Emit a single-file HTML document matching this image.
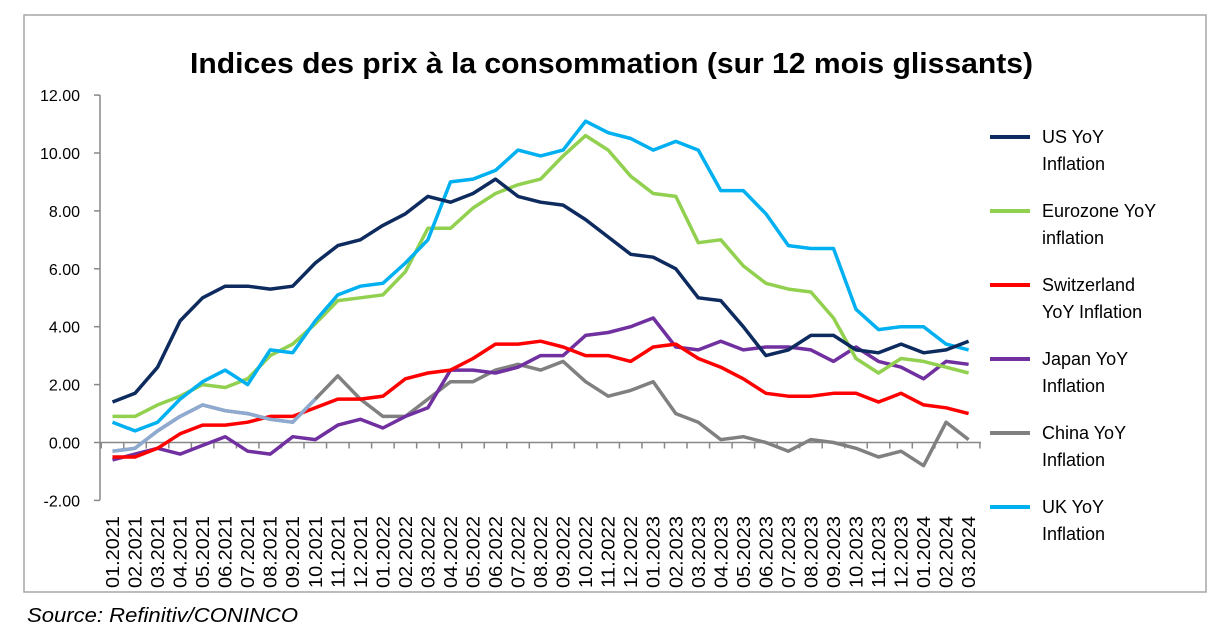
<!DOCTYPE html><html><head><style>body{margin:0;background:#fff}svg{display:block;font-family:"Liberation Sans",sans-serif}</style></head><body>
<svg width="1231" height="637" xmlns="http://www.w3.org/2000/svg">
<rect x="24" y="15" width="1182" height="577" fill="#fff" stroke="#a6a6a6" stroke-width="1.5"/>
<text x="190" y="73" font-size="29" font-weight="bold" textLength="843" lengthAdjust="spacingAndGlyphs">Indices des prix à la consommation  (sur 12 mois glissants)</text>
<g id="ax" stroke="#888" stroke-width="1.5"></g>
<g id="yl" font-size="16" text-anchor="end"></g>
<g id="xl" font-size="18"></g>
<g id="series" fill="none" stroke-width="3.5" stroke-linejoin="round"></g>
<g font-size="18">
<line x1="990" y1="137" x2="1030" y2="137" stroke="#0d2b5e" stroke-width="4"/><text x="1042" y="143">US YoY</text><text x="1042" y="170">Inflation</text>
<line x1="990" y1="211" x2="1030" y2="211" stroke="#92d050" stroke-width="4"/><text x="1042" y="217">Eurozone YoY</text><text x="1042" y="244">inflation</text>
<line x1="990" y1="285" x2="1030" y2="285" stroke="#ff0000" stroke-width="4"/><text x="1042" y="291">Switzerland</text><text x="1042" y="318">YoY Inflation</text>
<line x1="990" y1="359" x2="1030" y2="359" stroke="#7030a0" stroke-width="4"/><text x="1042" y="365">Japan YoY</text><text x="1042" y="392">Inflation</text>
<line x1="990" y1="433" x2="1030" y2="433" stroke="#808080" stroke-width="4"/><text x="1042" y="439">China YoY</text><text x="1042" y="466">Inflation</text>
<line x1="990" y1="507" x2="1030" y2="507" stroke="#00b0f0" stroke-width="4"/><text x="1042" y="513">UK YoY</text><text x="1042" y="540">Inflation</text>
</g>
<text x="27" y="622" font-size="20" font-style="italic" textLength="271" lengthAdjust="spacingAndGlyphs">Source: Refinitiv/CONINCO</text>
</svg>
<script>
const NS="http://www.w3.org/2000/svg";
const X0=112.5,DX=22.53,Y=v=>442.5-v*28.95;
function el(p,t,a,txt){const e=document.createElementNS(NS,t);for(const k in a)e.setAttribute(k,a[k]);if(txt)e.textContent=txt;document.getElementById(p).appendChild(e);}
el("ax","line",{x1:100,y1:95,x2:100,y2:500});
for(let v=-2;v<=12;v+=2){el("ax","line",{x1:94,y1:Y(v),x2:100,y2:Y(v)});el("yl","text",{x:80,y:Y(v)+6},v.toFixed(2));}
el("ax","line",{x1:100,y1:Y(0),x2:981,y2:Y(0)});
const labs=[];for(let i=0;i<39;i++){const m=(i%12)+1,yr=2021+Math.floor(i/12);labs.push(String(m).padStart(2,"0")+"."+yr);}
for(let i=0;i<=39;i++){const x=X0-DX/2+i*DX;el("ax","line",{x1:x,y1:Y(0),x2:x,y2:Y(0)+6});}
labs.forEach((l,i)=>{const x=X0+i*DX+6.5;el("xl","text",{x:x,y:516,transform:`rotate(-90 ${x} 516)`,"text-anchor":"end",textLength:"72",lengthAdjust:"spacingAndGlyphs"},l);});
const D={
"#808080":[-0.3,-0.2,0.4,0.9,1.3,1.1,1.0,0.8,0.7,1.5,2.3,1.5,0.9,0.9,1.5,2.1,2.1,2.5,2.7,2.5,2.8,2.1,1.6,1.8,2.1,1.0,0.7,0.1,0.2,0.0,-0.3,0.1,0.0,-0.2,-0.5,-0.3,-0.8,0.7,0.1],
"#7030a0":[-0.6,-0.4,-0.2,-0.4,-0.1,0.2,-0.3,-0.4,0.2,0.1,0.6,0.8,0.5,0.9,1.2,2.5,2.5,2.4,2.6,3.0,3.0,3.7,3.8,4.0,4.3,3.3,3.2,3.5,3.2,3.3,3.3,3.2,2.8,3.3,2.8,2.6,2.2,2.8,2.7],
"#ff0000":[-0.5,-0.5,-0.2,0.3,0.6,0.6,0.7,0.9,0.9,1.2,1.5,1.5,1.6,2.2,2.4,2.5,2.9,3.4,3.4,3.5,3.3,3.0,3.0,2.8,3.3,3.4,2.9,2.6,2.2,1.7,1.6,1.6,1.7,1.7,1.4,1.7,1.3,1.2,1.0],
"#92d050":[0.9,0.9,1.3,1.6,2.0,1.9,2.2,3.0,3.4,4.1,4.9,5.0,5.1,5.9,7.4,7.4,8.1,8.6,8.9,9.1,9.9,10.6,10.1,9.2,8.6,8.5,6.9,7.0,6.1,5.5,5.3,5.2,4.3,2.9,2.4,2.9,2.8,2.6,2.4],
"#00b0f0":[0.7,0.4,0.7,1.5,2.1,2.5,2.0,3.2,3.1,4.2,5.1,5.4,5.5,6.2,7.0,9.0,9.1,9.4,10.1,9.9,10.1,11.1,10.7,10.5,10.1,10.4,10.1,8.7,8.7,7.9,6.8,6.7,6.7,4.6,3.9,4.0,4.0,3.4,3.2],
"#0d2b5e":[1.4,1.7,2.6,4.2,5.0,5.4,5.4,5.3,5.4,6.2,6.8,7.0,7.5,7.9,8.5,8.3,8.6,9.1,8.5,8.3,8.2,7.7,7.1,6.5,6.4,6.0,5.0,4.9,4.0,3.0,3.2,3.7,3.7,3.2,3.1,3.4,3.1,3.2,3.5]};
for(const c in D){el("series","polyline",{stroke:c,points:D[c].map((v,i)=>(X0+i*DX).toFixed(1)+","+Y(v).toFixed(1)).join(" ")});}
el("series","polyline",{stroke:"#8eaad0",points:D["#808080"].slice(0,10).map((v,i)=>(X0+i*DX).toFixed(1)+","+Y(v).toFixed(1)).join(" ")});
</script></body></html>
